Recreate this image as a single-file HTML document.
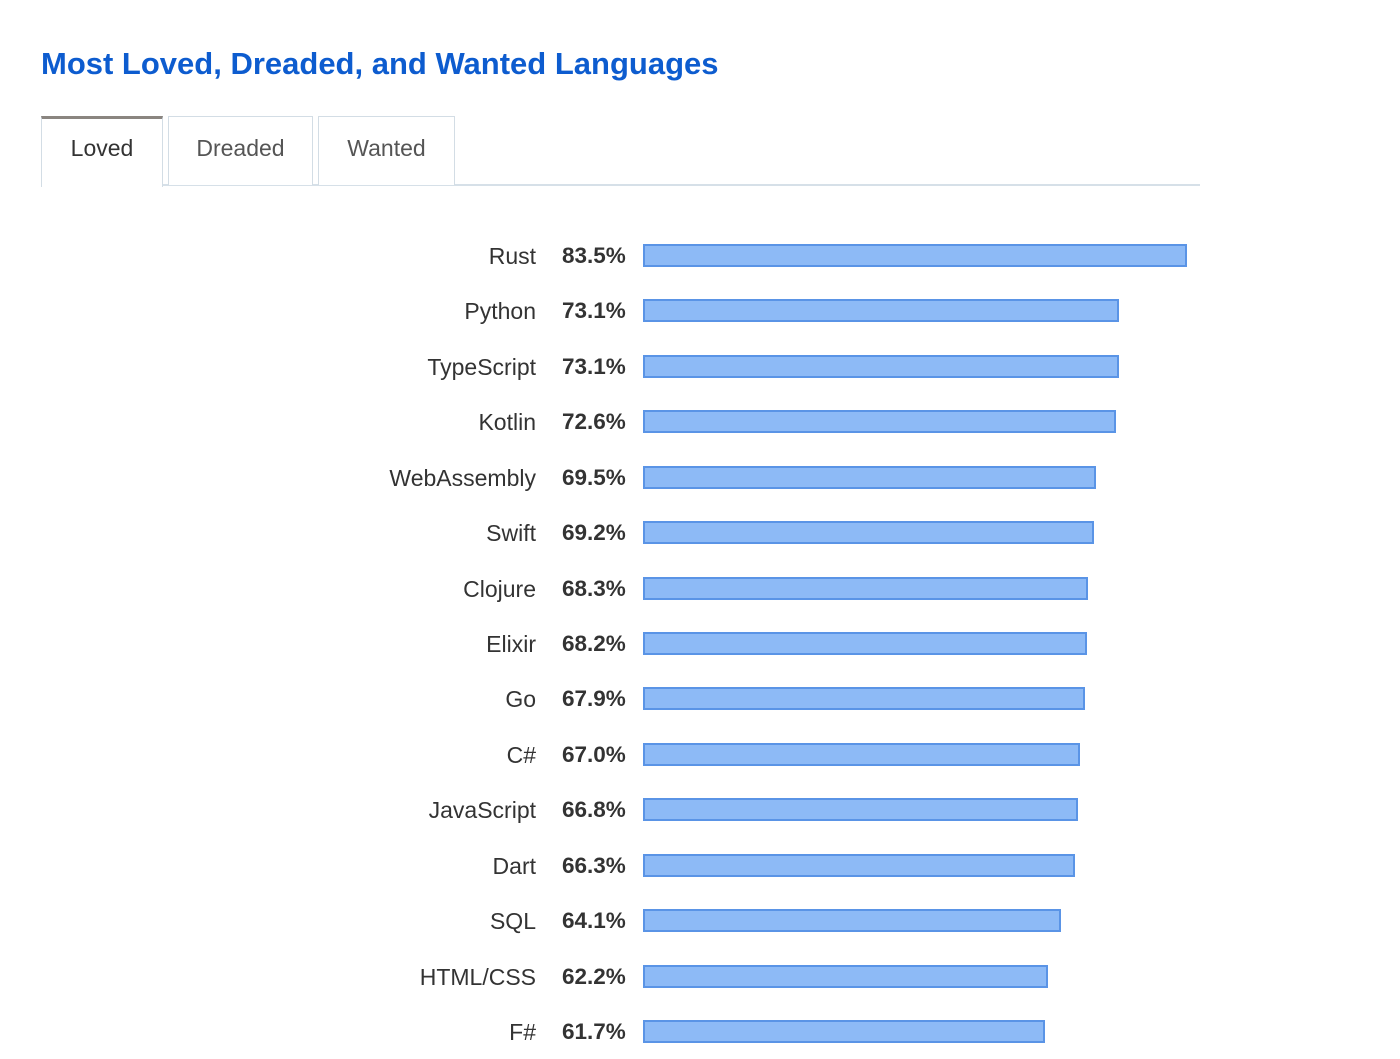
<!DOCTYPE html>
<html><head><meta charset="utf-8"><style>
body{margin:0;background:#fff;font-family:"Liberation Sans",sans-serif;}
#wrap{position:relative;width:1400px;height:1059px;overflow:hidden}
h1{position:absolute;left:41px;top:46px;margin:0;font-size:31px;font-weight:bold;color:#0d5ccf;}
.tab{position:absolute;top:116px;height:69px;border:1px solid #d3dde5;border-bottom:none;font-size:23px;color:#555;text-align:center;line-height:62px;box-sizing:border-box;background:#fff}
.line{position:absolute;left:41px;top:184px;width:1159px;height:2px;background:#d6e0e8}
.lab{position:absolute;right:864px;font-size:23px;color:#333;white-space:nowrap}
.val{position:absolute;left:562px;font-size:22.5px;font-weight:bold;color:#333}
.bar{position:absolute;height:23px;background:#8dbaf6;border:2px solid #5a94e6;box-sizing:border-box}
</style></head><body><div id="wrap">
<h1>Most Loved, Dreaded, and Wanted Languages</h1>
<div class="line"></div>
<div class="tab" style="left:41px;width:122px;height:71px;border-top:3px solid #8a8580;color:#333;line-height:58px">Loved</div>
<div class="tab" style="left:168px;width:145px">Dreaded</div>
<div class="tab" style="left:318px;width:137px">Wanted</div>
<div id="rows"></div>
</div>
<script>
const categories=["Rust","Python","TypeScript","Kotlin","WebAssembly","Swift","Clojure","Elixir","Go","C#","JavaScript","Dart","SQL","HTML/CSS","F#"];
const values=[83.5,73.1,73.1,72.6,69.5,69.2,68.3,68.2,67.9,67.0,66.8,66.3,64.1,62.2,61.7];
const x0=643,pxPer=544/83.5,y0=256,step=55.43;
const xs=v=>v*pxPer, ys=i=>y0+i*step;
const root=document.getElementById('wrap');
categories.forEach((c,i)=>{
  const cy=ys(i);
  const l=document.createElement('div');l.className='lab';l.textContent=c;l.style.top=(cy-13)+'px';
  
  
  const v=document.createElement('div');v.className='val';v.textContent=values[i].toFixed(1)+'%';v.style.top=(cy-13)+'px';
  
  
  const b=document.createElement('div');b.className='bar';b.style.left=x0+'px';b.style.top=(cy-12)+'px';b.style.width=xs(values[i])+'px';
  
  
  root.appendChild(l);root.appendChild(v);root.appendChild(b);
});
</script></body></html>
